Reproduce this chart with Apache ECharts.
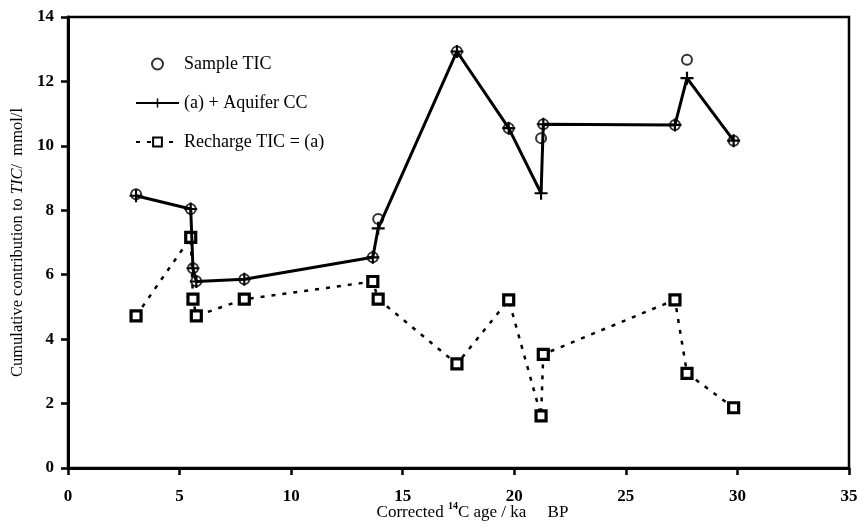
<!DOCTYPE html>
<html><head><meta charset="utf-8">
<script src="https://cdn.jsdelivr.net/npm/echarts@6/dist/echarts.min.js"></script>
<style>html,body{margin:0;padding:0;background:#fff}#c{width:859px;height:526px}</style>
</head><body><div id="c"></div>
<script>
var ages = [3.05, 5.5, 5.6, 5.75, 7.9, 13.66, 13.9, 17.43, 19.75, 21.2, 21.3, 27.2, 27.74, 29.83];
var sampleTIC = [8.5, 8.04, 6.2, 5.8, 5.86, 6.54, 7.73, 12.93, 10.55, 10.24, 10.67, 10.65, 12.67, 10.16];
var aquiferCC = [8.45, 8.04, 6.2, 5.79, 5.86, 6.54, 7.44, 12.93, 10.55, 8.53, 10.67, 10.65, 12.1, 10.16];
var rechargeTIC = [4.72, 7.16, 5.24, 4.72, 5.24, 5.79, 5.24, 3.23, 5.22, 1.62, 3.53, 5.22, 2.94, 1.87];
var xTicks = {min: 0, max: 35, step: 5};
var yTicks = {min: 0, max: 14, step: 2};
var names = ['Sample TIC', '(a) + Aquifer CC', 'Recharge TIC = (a)'];

function pairs(xs, ys) { return xs.map(function (x, i) { return [x, ys[i]]; }); }

var serif = 'Liberation Serif';
var chart = echarts.init(document.getElementById('c'));
chart.setOption({
  animation: false,
  backgroundColor: '#fff',
  grid: {left: 68, right: 10, top: 17, bottom: 58, outerBoundsMode: 'none', containLabel: false,
    show: true, borderColor: '#000', borderWidth: 2.5},
  legend: {
    orient: 'vertical', left: 130, top: 50, itemWidth: 43, itemHeight: 11, itemGap: 21,
    textStyle: {fontFamily: serif, fontSize: 18, color: '#000'},
    data: names
  },
  xAxis: {
    type: 'value', min: xTicks.min, max: xTicks.max, interval: xTicks.step,
    name: '{t|Corrected }{sup|14}{t|C age / ka     BP}', nameLocation: 'middle', nameGap: 33,
    nameMoveOverlap: false,
    nameTextStyle: {fontFamily: serif, fontSize: 17, color: '#000', padding: [0, 0, 0, 28],
      rich: {
        t: {fontFamily: serif, fontSize: 17, lineHeight: 20, verticalAlign: 'bottom', color: '#000'},
        sup: {fontFamily: serif, fontSize: 10, fontWeight: 'bold', lineHeight: 10, verticalAlign: 'top', color: '#000'}
      }},
    axisLine: {lineStyle: {color: '#000', width: 3}},
    axisTick: {inside: false, length: 7, lineStyle: {color: '#000', width: 2.5}},
    axisLabel: {fontFamily: serif, fontSize: 17, fontWeight: 'bold', color: '#000', margin: 20},
    splitLine: {show: false}
  },
  yAxis: {
    type: 'value', min: yTicks.min, max: yTicks.max, interval: yTicks.step,
    name: 'Cumulative contribution to {it|TIC}/  mmol/l', nameLocation: 'middle', nameGap: 34,
    nameTextStyle: {fontFamily: serif, fontSize: 16.5, color: '#000', padding: [0, 0, 0, 0],
      rich: {it: {fontFamily: serif, fontSize: 16.5, fontStyle: 'italic', color: '#000'}}},
    axisLine: {lineStyle: {color: '#000', width: 3}},
    axisTick: {inside: false, length: 7, lineStyle: {color: '#000', width: 2.5}},
    axisLabel: {fontFamily: serif, fontSize: 17, fontWeight: 'bold', color: '#000', margin: 14},
    splitLine: {show: false}
  },
  series: [
    {
      name: names[2], type: 'line', data: pairs(ages, rechargeTIC), z: 2,
      symbol: 'rect', symbolSize: 10,
      lineStyle: {color: '#000', width: 2.5, type: [4, 7]},
      itemStyle: {color: '#fff', borderColor: '#000', borderWidth: 3.2}
    },
    {
      name: names[1], type: 'line', data: pairs(ages, aquiferCC), z: 3,
      symbol: 'path://M5,0h2v12h-2z M0,5h12v2h-12z', symbolSize: 13,
      lineStyle: {color: '#000', width: 3},
      itemStyle: {color: '#000'}
    },
    {
      name: names[0], type: 'scatter', data: pairs(ages, sampleTIC), z: 4,
      symbol: 'circle', symbolSize: 10,
      itemStyle: {color: 'rgba(0,0,0,0)', borderColor: '#000', borderWidth: 2}
    }
  ]
});
</script></body></html>
